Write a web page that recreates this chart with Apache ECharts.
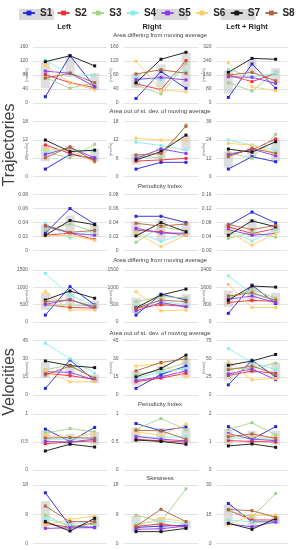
<!DOCTYPE html>
<html><head><meta charset="utf-8">
<script src="https://cdn.jsdelivr.net/npm/echarts@6/dist/echarts.min.js"></script>
<style>html,body{margin:0;padding:0;background:#fff}#c{width:306px;height:550px}</style>
</head><body><div id="c"></div>
<script>
const seriesNames = ['S1','S2','S3','S4','S5','S6','S7','S8'];
const seriesColors = ['#2424dc','#ee2a36','#a6d08c','#86eee8','#8a38ee','#ffcc66','#141414','#b0643a'];
const columnTitles = ['Left','Right','Left + Right'];
const rowTitles = ['Area differing from moving average','Area out of st. dev. of moving average','Periodicity Index',
  'Area differing from moving average','Area out of st. dev. of moving average','Periodicity Index','Skewness'];
const groupTitles = ['Trajectories','Velocities'];
const categories = ['A','B','C'];

// rows of values: one row per series S1..S8, three points each
const trajAreaDiffL = [[18,135,47],[81,58,44],[73,42,58],[123,80,80],[91,85,47],[108,58,37],[118,135,106],[71,85,58]];
const trajAreaDiffM = [[13,90,42],[55,38,121],[51,26,113],[73,66,92],[67,73,66],[120,37,32],[58,125,145],[83,95,85]];
const trajAreaDiffR = [[32,223,84],[160,122,170],[116,69,177],[192,150,170],[150,147,112],[230,93,70],[175,255,250],[160,175,127]];
const trajAreaSdL = [[2.5,7.3,6.0],[10.4,7.6,5.5],[8.0,6.2,10.6],[8.2,8.9,8.2],[7.3,9.5,6.2],[9.1,8.7,4.7],[12.0,8.2,8.7],[6.2,9.8,5.1]];
const trajAreaSdM = [[2.5,4.7,4.7],[5.1,5.5,6.0],[6.7,6.2,17.0],[11.3,10.2,8.7],[6.0,9.1,7.6],[12.6,12.0,12.0],[5.5,8.2,13.6],[7.1,7.6,16.5]];
const trajAreaSdR = [[5,13.1,9.8],[14.7,17.5,24.7],[16,12,27.7],[24,20.7,17.5],[14.2,18.1,13.7],[21.8,20.7,15.3],[18.1,16,22.9],[13.1,18.6,15.3]];
const trajPerL = [[0.025,0.060,0.038],[0.022,0.025,0.016],[0.030,0.038,0.027],[0.039,0.018,0.030],[0.035,0.025,0.022],[0.021,0.022,0.015],[0.022,0.043,0.037],[0.036,0.026,0.029]];
const trajPerM = [[0.049,0.049,0.040],[0.029,0.027,0.022],[0.012,0.034,0.028],[0.027,0.013,0.025],[0.032,0.025,0.025],[0.025,0.006,0.022],[0.021,0.040,0.027],[0.039,0.035,0.038]];
const trajPerR = [[0.072,0.110,0.079],[0.068,0.049,0.063],[0.035,0.052,0.039],[0.057,0.028,0.060],[0.060,0.044,0.049],[0.054,0.016,0.049],[0.044,0.085,0.068],[0.075,0.060,0.072]];
const velAreaDiffL = [[200,1020,490],[500,420,400],[490,490,470],[1400,780,450],[510,650,395],[875,345,345],[635,895,685],[585,635,440]];
const velAreaDiffM = [[200,800,635],[400,500,450],[585,730,700],[450,600,500],[320,560,440],[875,320,345],[410,780,950],[395,635,585]];
const velAreaDiffR = [[400,1700,855],[900,1000,950],[1100,1500,1100],[2130,1300,1000],[1050,1200,900],[1730,670,670],[1005,1660,1610],[1200,1350,1005]];
const velAreaSdL = [[5.5,29,11.9],[18,16,13],[21,24.9,14],[43,30,18],[19.3,18.8,12.4],[20,11,11],[28.2,24.3,22.7],[16.6,24,14]];
const velAreaSdM = [[5.5,17,24],[11,14,18],[17,20,27],[14,19,22],[12,15,20],[24,26,15],[15,22,33],[20,27,30]];
const velAreaSdR = [[14,48,25],[27,33,30],[36,37,44],[64,45,35],[29,36,21],[46,21,23],[41,47,56],[35,40,29]];
const velPerL = [[0.73,0.51,0.76],[0.47,0.50,0.52],[0.66,0.74,0.68],[0.55,0.55,0.56],[0.51,0.50,0.55],[0.62,0.58,0.65],[0.34,0.46,0.41],[0.57,0.58,0.57]];
const velPerM = [[0.83,0.70,0.77],[0.55,0.52,0.50],[0.73,0.92,0.72],[0.60,0.58,0.60],[0.60,0.55,0.52],[0.68,0.62,0.82],[0.535,0.51,0.46],[0.71,0.70,0.55]];
const velPerR = [[1.55,1.10,1.55],[1.05,1.02,1.0],[1.45,1.69,1.25],[1.15,1.13,1.1],[1.3,1.1,1.05],[1.25,1.2,1.15],[0.86,0.93,0.81],[1.19,1.29,1.13]];
const velSkewL = [[15.6,5.3,4.9],[6.0,5.0,6.3],[8.7,4.9,6.0],[7.5,5.8,7.0],[4.6,4.8,4.8],[5.6,7.4,8.4],[6.7,3.8,7.7],[11.5,6.7,6.7]];
const velSkewM = [[4.9,5.3,5.6],[5.2,6.0,5.0],[8.7,6.7,16.8],[6,7,6],[4.3,4.5,5.3],[5.5,7.7,6.7],[3.6,3.6,4.6],[5.3,10.5,6.7]];
const velSkewR = [[20.5,11.1,11.1],[17,12,12],[16.8,13.6,25.6],[12,11,11],[10,8.5,11],[9.4,14.5,14.5],[10.3,7.2,12.8],[17.4,16.8,13.4]];

// grey bands: [low, high] at each of the three points
const bandTrajAreaDiff = [[[43,116],[75,132],[37,85]],[[43,85],[45,110],[45,145]],[[55,185],[170,250],[112,200]]];
const bandTrajAreaSd = [[[5,10.5],[7.5,10],[5,9]],[[4,7.5],[6,9.5],[8.5,13.5]],[[6,16.5],[12,19],[10,25]]];
const bandTrajPer = [[[0.020,0.037],[0.025,0.050],[0.020,0.037]],[[0.020,0.042],[0.015,0.045],[0.022,0.040]],[[0.045,0.075],[0.040,0.090],[0.050,0.075]]];
const bandVelAreaDiff = [[[350,850],[520,870],[380,620]],[[250,700],[450,800],[400,800]],[[700,1450],[900,1600],[800,1350]]];
const bandVelAreaSd = [[[14,27],[16,25],[10,17]],[[8,20],[14,24],[15,30]],[[20,45],[30,45],[22,45]]];
const bandVelPer = [[[0.45,0.70],[0.45,0.65],[0.45,0.68]],[[0.50,0.75],[0.50,0.75],[0.48,0.75]],[[0.90,1.45],[0.95,1.40],[0.90,1.40]]];
const bandVelSkew = [[[4.5,13],[4,7],[5,8.5]],[[3.5,8.5],[4,8],[4.5,7]],[[9,20],[8,15],[10,14]]];

const rowData = [
  [trajAreaDiffL,trajAreaDiffM,trajAreaDiffR],
  [trajAreaSdL,trajAreaSdM,trajAreaSdR],
  [trajPerL,trajPerM,trajPerR],
  [velAreaDiffL,velAreaDiffM,velAreaDiffR],
  [velAreaSdL,velAreaSdM,velAreaSdR],
  [velPerL,velPerM,velPerR],
  [velSkewL,velSkewM,velSkewR]
];
const rowBands = [bandTrajAreaDiff,bandTrajAreaSd,bandTrajPer,bandVelAreaDiff,bandVelAreaSd,bandVelPer,bandVelSkew];
// axis maxima and intervals [left, middle, right]
const yMax = [[160,160,320],[18,18,36],[0.08,0.08,0.16],[1500,1500,2400],[45,45,75],[1,1,2],[18,18,30]];
const yStep = [[40,40,80],[6,6,12],[0.02,0.02,0.04],[500,500,800],[15,15,25],[0.5,0.5,1],[9,9,15]];
const unitLabels = ['[mm\u00b2/s]','[mm\u00b2/s]','','[mm/s]','[mm/s]','',''];

const colLeft = [33,123.5,216.5];
const colWidth = [74,75,71];
const rowTop = [47,121.7,194.5,270,340.7,414,485];
const rowBottom = [103,176.7,250.7,322,395,470,543.3];
const unitX = [27,111,204];

const grids=[],xAxes=[],yAxes=[],series=[],graphics=[];
let gi=0;
for(let r=0;r<7;r++){
  for(let c=0;c<3;c++){
    grids.push({left:colLeft[c],top:rowTop[r],width:colWidth[c],height:rowBottom[r]-rowTop[r],containLabel:false});
    xAxes.push({type:'category',gridIndex:gi,data:categories,boundaryGap:true,axisLine:{show:false},axisTick:{show:false},axisLabel:{show:false},splitLine:{show:false}});
    let fmt;
    if(r===2&&c<2) fmt=v=>v===0?'0':v.toFixed(2);
    else if(r===2) fmt=v=>v.toFixed(2);
    else fmt=v=>String(+v.toFixed(3));
    yAxes.push({type:'value',gridIndex:gi,min:0,max:yMax[r][c],interval:yStep[r][c],
      axisLine:{show:false},axisTick:{show:false},
      axisLabel:{fontSize:5,color:'#595959',margin:5,fontFamily:'Liberation Sans',formatter:fmt},
      splitLine:{lineStyle:{color:'#dcdcdc',width:0.8}}});
    const band=rowBands[r][c];
    series.push({type:'bar',name:'bandBase',xAxisIndex:gi,yAxisIndex:gi,stack:'b'+gi,barWidth:9,silent:true,
      itemStyle:{color:'rgba(0,0,0,0)'},data:band.map(b=>b[0]),z:1});
    series.push({type:'bar',name:'band',xAxisIndex:gi,yAxisIndex:gi,stack:'b'+gi,barWidth:9,silent:true,
      itemStyle:{color:'rgba(190,190,190,0.5)'},data:band.map(b=>b[1]-b[0]),z:1});
    const d=rowData[r][c];
    for(let s=0;s<8;s++){
      series.push({type:'line',name:seriesNames[s],xAxisIndex:gi,yAxisIndex:gi,data:d[s],
        symbol:'rect',symbolSize:3,showSymbol:true,
        lineStyle:{width:1,color:seriesColors[s],opacity:0.9},itemStyle:{color:seriesColors[s]},z:3});
    }
    if(unitLabels[r]){
      graphics.push({type:'text',x:unitX[c],y:(rowTop[r]+rowBottom[r])/2,rotation:Math.PI/2,
        style:{text:unitLabels[r],fontSize:4,fill:'#595959',align:'center',verticalAlign:'middle',fontFamily:'Liberation Sans'}});
    }
    gi++;
  }
}
// titles over each row
const rowTitleY=[35.5,111.7,186,260,333,404,478];
for(let r=0;r<7;r++){
  graphics.push({type:'text',x:160,y:rowTitleY[r],style:{text:rowTitles[r],fontSize:6,fill:'#404040',align:'center',verticalAlign:'middle',fontFamily:'Liberation Sans'}});
}
const colTitleX=[64,152,247];
for(let c=0;c<3;c++){
  graphics.push({type:'text',x:colTitleX[c],y:26.5,style:{text:columnTitles[c],fontSize:7.5,fontWeight:'bold',fill:'#262626',align:'center',verticalAlign:'middle',fontFamily:'Liberation Sans'}});
}
graphics.push({type:'text',x:10,y:145,rotation:Math.PI/2,style:{text:groupTitles[0],fontSize:16,fill:'#404040',align:'center',verticalAlign:'middle',fontFamily:'Liberation Sans'}});
graphics.push({type:'text',x:10,y:382,rotation:Math.PI/2,style:{text:groupTitles[1],fontSize:16,fill:'#404040',align:'center',verticalAlign:'middle',fontFamily:'Liberation Sans'}});
// highlighted legend boxes (S1, S5, S7)
[[19,35],[153,35],[220.5,35]].forEach(b=>graphics.push({type:'rect',z:-10,shape:{x:b[0],y:9,width:b[1],height:11},style:{fill:'#d9d9d9'}}));

const chart=echarts.init(document.getElementById('c'),null,{renderer:'canvas'});
chart.setOption({
  animation:false,
  backgroundColor:'#fff',
  legend:{data:seriesNames,top:8,left:22,width:290,padding:0,itemWidth:12,itemHeight:6,itemGap:4.4,
    textStyle:{fontSize:10,fontWeight:'bold',color:'#262626',fontFamily:'Liberation Sans'}},
  grid:grids,xAxis:xAxes,yAxis:yAxes,series:series,
  graphic:{elements:graphics}
});
</script></body></html>
